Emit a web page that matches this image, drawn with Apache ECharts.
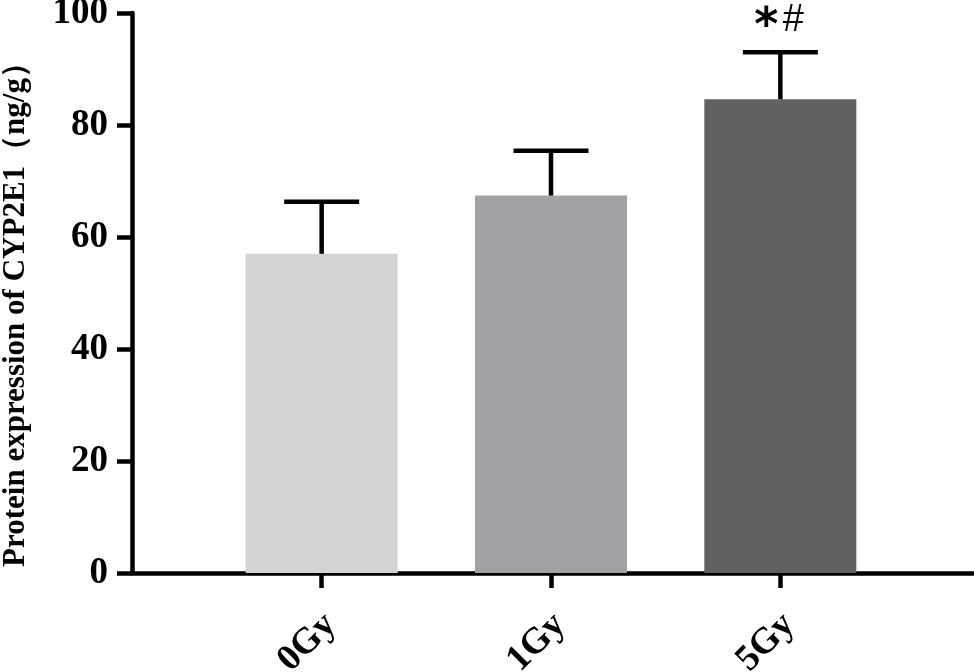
<!DOCTYPE html>
<html>
<head>
<meta charset="utf-8">
<script src="https://cdn.jsdelivr.net/npm/echarts@6/dist/echarts.min.js"></script>
<style>
  html, body { margin: 0; padding: 0; background: #fff; }
  #chart { width: 974px; height: 672px; }
</style>
</head>
<body>
<div id="chart"></div>
<script>
// categories and values
const categories = ['0Gy', '1Gy', '5Gy']
const meanValues = [57.0, 67.4, 84.6]
const upperValues = [66.3, 75.4, 93.0]
const annotations = ['', '', '*#']
const yTicks = [0, 20, 40, 60, 80, 100]

const barColors = ['#d3d3d3', '#a2a1a6', '#616161']
const serif = '"Liberation Serif", "Times New Roman", serif'

const chart = echarts.init(document.getElementById('chart'))

const errorData = categories.map((c, i) => [i, meanValues[i], upperValues[i]])

const option = {
  animation: false,
  grid: [
    // full-width grid: carries the axis lines
    { left: 132, right: 1, top: 13, bottom: 99, outerBoundsMode: 'none' },
    // bar grid: narrower so the bars sit where the reference has them
    { left: 207, right: 79, top: 13, bottom: 99, outerBoundsMode: 'none' }
  ],
  xAxis: [
    {
      gridIndex: 0,
      type: 'value',
      min: 0,
      max: 1,
      axisLine: { show: true, lineStyle: { color: '#000', width: 4.5 } },
      axisTick: { show: false },
      axisLabel: { show: false },
      splitLine: { show: false }
    },
    {
      gridIndex: 1,
      type: 'category',
      data: categories,
      axisLine: { show: false },
      axisTick: {
        show: true,
        alignWithLabel: true,
        length: 15,
        lineStyle: { color: '#000', width: 4.5 }
      },
      axisLabel: {
        rotate: 45,
        margin: 29,
        verticalAlign: 'top',
        padding: [0, 6, 0, 0],
        color: '#000',
        fontFamily: serif,
        fontWeight: 'bold',
        fontSize: 37
      }
    }
  ],
  yAxis: [
    {
      gridIndex: 0,
      type: 'value',
      min: 0,
      max: 100,
      interval: 20,
      name: 'Protein expression of CYP2E1（ng/g）',
      nameLocation: 'middle',
      nameGap: 101,
      nameTextStyle: {
        color: '#000',
        fontFamily: serif,
        fontWeight: 'bold',
        fontSize: 31,
        padding: [0, 28, 0, 0]
      },
      axisLine: { show: true, lineStyle: { color: '#000', width: 4.5 } },
      axisTick: { show: true, length: 15, lineStyle: { color: '#000', width: 4.5 } },
      axisLabel: {
        margin: 24,
        color: '#000',
        fontFamily: serif,
        fontWeight: 'bold',
        fontSize: 37,
        formatter: v => (yTicks.includes(v) ? String(v) : '')
      },
      splitLine: { show: false }
    },
    {
      gridIndex: 1,
      type: 'value',
      min: 0,
      max: 100,
      show: false
    }
  ],
  series: [
    {
      type: 'bar',
      xAxisIndex: 1,
      yAxisIndex: 1,
      barWidth: 152,
      data: meanValues.map((v, i) => ({ value: v, itemStyle: { color: barColors[i] } }))
    },
    {
      type: 'custom',
      xAxisIndex: 1,
      yAxisIndex: 1,
      z: 3,
      data: errorData,
      renderItem: (params, api) => {
        const i = api.value(0)
        const base = api.coord([i, api.value(1)])
        const top = api.coord([i, api.value(2)])
        const half = 37.5
        const lineStyle = { stroke: '#000', lineWidth: 4.5 }
        const children = [
          { type: 'line', shape: { x1: base[0], y1: base[1], x2: top[0], y2: top[1] }, style: lineStyle },
          { type: 'line', shape: { x1: top[0] - half, y1: top[1], x2: top[0] + half, y2: top[1] }, style: lineStyle }
        ]
        const note = annotations[i]
        if (note) {
          children.push({
            type: 'text',
            style: {
              text: note.charAt(0),
              x: top[0] - 14,
              y: top[1] - 24,
              align: 'center',
              verticalAlign: 'middle',
              fill: '#000',
              font: 'bold 46px "DejaVu Sans"'
            }
          })
          children.push({
            type: 'text',
            style: {
              text: note.charAt(1),
              x: top[0] + 13,
              y: top[1] - 32,
              align: 'center',
              verticalAlign: 'middle',
              fill: '#000',
              font: '38px "Liberation Sans"'
            }
          })
        }
        return { type: 'group', children }
      }
    }
  ]
}

chart.setOption(option)
</script>
</body>
</html>
